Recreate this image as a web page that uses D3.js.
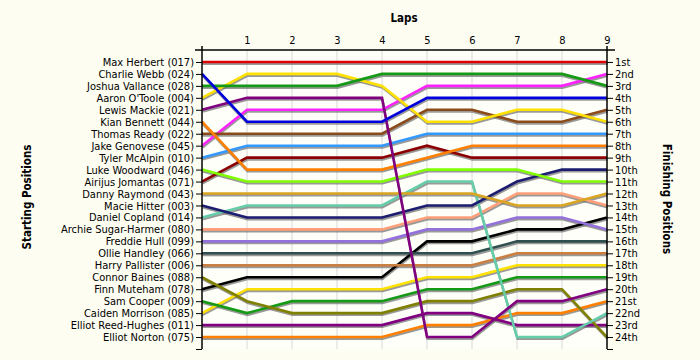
<!DOCTYPE html>
<html><head><meta charset="utf-8">
<script src="https://cdn.jsdelivr.net/npm/d3@7"></script>
<style>
html,body{margin:0;padding:0;background:#fdfdf2;}
svg{display:block;}
text{font-family:"DejaVu Sans Condensed","DejaVu Sans",sans-serif;}
</style></head><body>
<script>
const drivers = ["Max Herbert (017)","Charlie Webb (024)","Joshua Vallance (028)","Aaron O'Toole (004)","Lewis Mackie (021)","Kian Bennett (044)","Thomas Ready (022)","Jake Genovese (045)","Tyler McAlpin (010)","Luke Woodward (046)","Airijus Jomantas (071)","Danny Raymond (043)","Macie Hitter (003)","Daniel Copland (014)","Archie Sugar-Harmer (080)","Freddie Hull (099)","Ollie Handley (066)","Harry Pallister (006)","Connor Baines (088)","Finn Muteham (078)","Sam Cooper (009)","Caiden Morrison (085)","Elliot Reed-Hughes (011)","Elliot Norton  (075)"];
const colors = ["#dd0000","#0000dd","#149a14","#ffe100","#800080","#ff8000","#8b4a1a","#ff22ff","#3399ff","#80ff00","#8b0000","#daa520","#1c1c70","#66cdaa","#ffa07a","#9370db","#2f4f4f","#cd7f3f","#808000","#000000","#149a14","#ffe100","#800080","#ff8000"];
const laps = [0,1,2,3,4,5,6,7,8,9];
const lapLabels = ["","1","2","3","4","5","6","7","8","9"];
const finishLabels = ["1st","2nd","3rd","4th","5th","6th","7th","8th","9th","10th","11th","12th","13th","14th","15th","16th","17th","18th","19th","20th","21st","22nd","23rd","24th"];
const positions = [
 [1,1,1,1,1,1,1,1,1,1],
 [2,6,6,6,6,4,4,4,4,4],
 [3,3,3,3,2,2,2,2,2,3],
 [4,2,2,2,3,6,6,5,5,6],
 [5,4,4,4,4,24,24,21,21,20],
 [6,10,10,10,10,9,8,8,8,8],
 [7,7,7,7,7,5,5,6,6,5],
 [8,5,5,5,5,3,3,3,3,2],
 [9,8,8,8,8,7,7,7,7,7],
 [10,11,11,11,11,10,10,10,11,11],
 [11,9,9,9,9,8,9,9,9,9],
 [12,12,12,12,12,12,12,13,13,12],
 [13,14,14,14,14,13,13,11,10,10],
 [14,13,13,13,13,11,11,24,24,22],
 [15,15,15,15,15,14,14,12,12,13],
 [16,16,16,16,16,15,15,14,14,15],
 [17,17,17,17,17,17,17,16,16,16],
 [18,18,18,18,18,18,18,17,17,17],
 [19,21,22,22,22,21,21,20,20,24],
 [20,19,19,19,19,16,16,15,15,14],
 [21,22,21,21,21,20,20,19,19,19],
 [22,20,20,20,20,19,19,18,18,18],
 [23,23,23,23,23,22,22,23,23,23],
 [24,24,24,24,24,23,23,22,22,21]
];

const W=700,H=360;
const svg=d3.select("body").append("svg").attr("width",W).attr("height",H);
svg.append("rect").attr("width",W).attr("height",H).attr("fill","#fdfdf2");
const x=d3.scaleLinear().domain([0,9]).range([202,607]);
const y=d3.scaleLinear().domain([0,25]).range([50,349]);

svg.append("rect").attr("x",x(0)).attr("y",y(0)).attr("width",x(9)-x(0)).attr("height",y(25)-y(0)).attr("fill","#fffffa");

// vertical gridlines
svg.append("g").selectAll("line").data(laps.slice(1,9)).join("line")
 .attr("x1",d=>x(d)).attr("x2",d=>x(d)).attr("y1",y(0)).attr("y2",y(25))
 .attr("stroke","#e4e4e4").attr("stroke-width",1.5);

// lines
const line=d3.line().x((d,i)=>x(laps[i])).y(d=>y(d));
const order=d3.range(positions.length).reverse();
const gS=svg.append("g").attr("transform","translate(0.5,1.8)");
gS.selectAll("path").data(order).join("path").attr("d",i=>line(positions[i]))
 .attr("fill","none").attr("stroke","#777").attr("stroke-opacity",0.75).attr("stroke-width",2.4);
const gL=svg.append("g");
gL.selectAll("path").data(order).join("path").attr("d",i=>line(positions[i]))
 .attr("fill","none").attr("stroke",i=>colors[i]).attr("stroke-width",2.6);

const rows=d3.range(1,25);
// left axis
const la=svg.append("g").attr("transform",`translate(${x(0)},0)`)
 .call(d3.axisLeft(y).tickValues(rows.concat([25])).tickSize(6).tickPadding(2).tickFormat(d=>d<=24?drivers[d-1]:""));
la.select(".domain").remove();
la.append("line").attr("x1",0).attr("x2",0).attr("y1",46).attr("y2",y(25)).attr("stroke","#000").attr("stroke-width",1.5);
// right axis
const ra=svg.append("g").attr("transform",`translate(${x(9)},0)`)
 .call(d3.axisRight(y).tickValues(rows.concat([25])).tickSize(6).tickPadding(2).tickFormat(d=>d<=24?finishLabels[d-1]:""));
ra.select(".domain").remove();
ra.append("line").attr("x1",0).attr("x2",0).attr("y1",46).attr("y2",y(25)).attr("stroke","#000").attr("stroke-width",1.5);
// top axis
const ta=svg.append("g").attr("transform",`translate(0,${y(0)})`)
 .call(d3.axisTop(x).tickValues(laps.slice(1)).tickSize(0).tickPadding(6).tickFormat(d=>lapLabels[d]));
ta.select(".domain").remove();
ta.append("line").attr("x1",195).attr("x2",615).attr("y1",0).attr("y2",0).attr("stroke","#000").attr("stroke-width",1.5);

svg.selectAll(".tick line").attr("stroke","#000");
svg.selectAll(".tick text").attr("font-size",11).attr("fill","#000").style("font-family",'"DejaVu Sans Condensed","DejaVu Sans",sans-serif');

svg.append("text").attr("x",404).attr("y",22).attr("text-anchor","middle").attr("font-size",11.5).attr("font-weight","bold").text("Laps");
svg.append("text").attr("transform","translate(31,197) rotate(-90)").attr("text-anchor","middle").attr("font-size",11.5).attr("font-weight","bold").text("Starting Positions");
svg.append("text").attr("transform","translate(663,199) rotate(90)").attr("text-anchor","middle").attr("font-size",11.5).attr("font-weight","bold").text("Finishing Positions");
</script>
</body></html>
